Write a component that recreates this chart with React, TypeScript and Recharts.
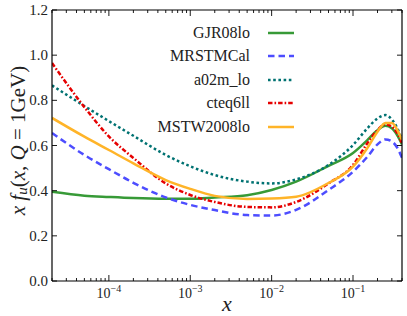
import React from 'react';
import { LineChart, Line, XAxis, YAxis } from 'recharts';

// x grid and u-quark momentum densities (Q = 1 GeV)
const X_VALUES = [2e-5, 5e-5, 1e-4, 2e-4, 5e-4, 1e-3, 2e-3, 5e-3, 1e-2, 2e-2, 5e-2, 0.1, 0.15, 0.2, 0.25, 0.3, 0.35, 0.4];
const GJR08LO = [0.395, 0.378, 0.372, 0.367, 0.364, 0.364, 0.37, 0.38, 0.403, 0.44, 0.51, 0.567, 0.624, 0.668, 0.687, 0.676, 0.645, 0.605];
const MRSTMCAL = [0.655, 0.558, 0.495, 0.435, 0.37, 0.337, 0.314, 0.292, 0.29, 0.315, 0.403, 0.484, 0.55, 0.605, 0.627, 0.618, 0.59, 0.545];
const A02M_LO = [0.866, 0.775, 0.708, 0.643, 0.558, 0.508, 0.469, 0.44, 0.432, 0.45, 0.514, 0.602, 0.676, 0.72, 0.735, 0.715, 0.677, 0.624];
const CTEQ6LL = [0.965, 0.77, 0.64, 0.545, 0.432, 0.381, 0.35, 0.328, 0.326, 0.35, 0.432, 0.514, 0.61, 0.668, 0.694, 0.683, 0.655, 0.61];
const MSTW2008LO = [0.722, 0.639, 0.58, 0.521, 0.447, 0.408, 0.377, 0.363, 0.365, 0.373, 0.434, 0.506, 0.589, 0.661, 0.7, 0.7, 0.669, 0.624];

const Y_TICKS = [0, 0.2, 0.4, 0.6, 0.8, 1.0, 1.2];
const X_DOMAIN: [number, number] = [2e-5, 0.4];

const SERIES = [
    { key: 'gjr', name: 'GJR08lo', values: GJR08LO, color: '#379a37', dash: undefined },
    { key: 'mrst', name: 'MRSTMCal', values: MRSTMCAL, color: '#4d4dff', dash: '6.5 4' },
    { key: 'a02', name: 'a02m_lo', values: A02M_LO, color: '#007272', dash: '2.6 2.6' },
    { key: 'cteq', name: 'cteq6ll', values: CTEQ6LL, color: '#e60000', dash: '4.5 2 1.6 2' },
    { key: 'mstw', name: 'MSTW2008lo', values: MSTW2008LO, color: '#ffb428', dash: undefined },
];

const data = X_VALUES.map((x, i) => {
    const row: { [key: string]: number } = { x };
    SERIES.forEach(s => { row[s.key] = s.values[i]; });
    return row;
});

// major + minor log ticks inside the domain
const X_TICKS: number[] = [];
for (let e = -5; e <= -1; e++) {
    for (let m = 1; m <= 9; m++) {
        const v = m * Math.pow(10, e);
        if (v >= X_DOMAIN[0] * 0.999 && v <= X_DOMAIN[1] * 1.001) X_TICKS.push(v);
    }
}

const FONT = 'Liberation Serif, Times New Roman, Times, DejaVu Serif, Noto Serif, serif';

const isMajor = (v: number) => {
    const l = Math.log10(v);
    return Math.abs(l - Math.round(l)) < 1e-6;
};

const XTick = ({ x, y, payload, top }: any) => {
    const major = isMajor(payload.value);
    const len = major ? 6 : 3;
    const dir = top ? 1 : -1;
    const exp = Math.round(Math.log10(payload.value));
    return (
        <g>
            <line x1={x} x2={x} y1={y} y2={y + dir * len} stroke="#000" strokeWidth={0.9} />
            {!top && major && (
                <text x={x} y={y + 17} textAnchor="middle" style={{ fontFamily: FONT }} fontSize={14} fill="#222">
                    10<tspan dy={-6} fontSize={10}>{'\u2212' + Math.abs(exp)}</tspan>
                </text>
            )}
        </g>
    );
};

const YTick = ({ x, y, payload, right }: any) => {
    const dir = right ? -1 : 1;
    return (
        <g>
            <line x1={x} x2={x + dir * 5} y1={y} y2={y} stroke="#000" strokeWidth={0.9} />
            {!right && (
                <text x={x - 4} y={y} textAnchor="end" dominantBaseline="central" style={{ fontFamily: FONT }} fontSize={15} fill="#222">
                    {payload.value.toFixed(1)}
                </text>
            )}
        </g>
    );
};

const renderYLabel = (p: any) => {
    const vb = p.viewBox || {};
    const cx = (vb.x ?? 0) + 18;
    const cy = (vb.y ?? 10) + (vb.height ?? 271) / 2 - 5;
    return (
        <text x={cx} y={cy} transform={`rotate(-90 ${cx} ${cy})`} textAnchor="middle" dominantBaseline="central"
            style={{ fontFamily: FONT }} fontSize={21} fill="#222">
            <tspan fontStyle="italic">x f</tspan>
            <tspan fontStyle="italic" fontSize={15} dy={4}>u</tspan>
            <tspan dy={-4}>(</tspan>
            <tspan fontStyle="italic">x</tspan>
            <tspan>, </tspan>
            <tspan fontStyle="italic">Q</tspan>
            <tspan> = 1GeV)</tspan>
        </text>
    );
};

const renderXLabel = (p: any) => {
    const vb = p.viewBox || {};
    const cx = (vb.x ?? 52) + (vb.width ?? 350) / 2;
    const cy = (vb.y ?? 281) + 30;
    return (
        <text x={cx} y={cy} textAnchor="middle" style={{ fontFamily: FONT }} fontSize={22} fontStyle="italic" fill="#222">x</text>
    );
};

const Legend = () => (
    <div style={{ position: 'absolute', left: 120, top: 21, width: 175, fontFamily: FONT, fontSize: 16, color: '#222' }}>
        {SERIES.map(s => (
            <div key={s.key} style={{ display: 'flex', alignItems: 'center', justifyContent: 'flex-end', height: 23.5 }}>
                <span>{s.name}</span>
                <svg width={28} height={10} style={{ marginLeft: 17 }}>
                    <line x1={1} x2={27} y1={5} y2={5} stroke={s.color} strokeWidth={2.5} strokeDasharray={s.dash} />
                </svg>
            </div>
        ))}
    </div>
);

const App: React.FC = () => {
    return (
        <div style={{ position: 'absolute', left: 0, top: 0, width: 407, height: 316, background: '#fff' }}>
            <LineChart width={407} height={316} data={data} margin={{ top: 0, right: 0, bottom: 0, left: 0 }}>
                <XAxis xAxisId="bottom" dataKey="x" type="number" scale="log" domain={X_DOMAIN} allowDataOverflow
                    ticks={X_TICKS} interval={0} tickSize={0} tickMargin={0} tickLine={false}
                    tick={<XTick />} height={35} axisLine={{ stroke: '#000', strokeWidth: 1.2 }} label={{ content: renderXLabel }} />
                <XAxis xAxisId="top" orientation="top" dataKey="x" type="number" scale="log" domain={X_DOMAIN} allowDataOverflow
                    ticks={X_TICKS} interval={0} tickSize={0} tickMargin={0} tickLine={false}
                    tick={<XTick top />} height={10} axisLine={{ stroke: '#000', strokeWidth: 1.2 }} />
                <YAxis yAxisId="left" type="number" domain={[0, 1.2]} allowDataOverflow ticks={Y_TICKS} interval={0}
                    tickSize={0} tickMargin={0} tickLine={false} tick={<YTick />} width={52}
                    axisLine={{ stroke: '#000', strokeWidth: 1.2 }} label={{ content: renderYLabel }} />
                <YAxis yAxisId="right" orientation="right" type="number" domain={[0, 1.2]} allowDataOverflow ticks={Y_TICKS} interval={0}
                    tickSize={0} tickMargin={0} tickLine={false} tick={<YTick right />} width={5}
                    axisLine={{ stroke: '#000', strokeWidth: 1.2 }} />
                {SERIES.map(s => (
                    <Line key={s.key} xAxisId="bottom" yAxisId="left" type="monotone" dataKey={s.key} name={s.name}
                        stroke={s.color} strokeWidth={2.5} strokeDasharray={s.dash} dot={false} activeDot={false}
                        isAnimationActive={false} />
                ))}
            </LineChart>
            <Legend />
        </div>
    );
};

export default App;
